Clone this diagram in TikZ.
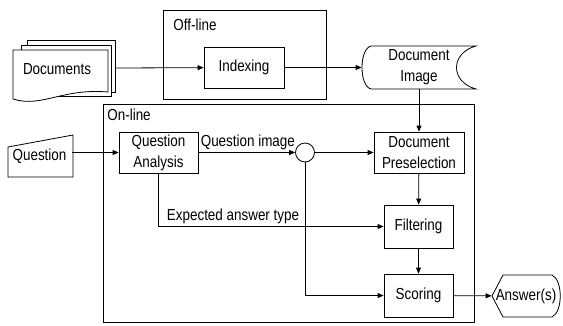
\documentclass[tikz,border=0pt]{standalone}
\usepackage{fontspec}
\setmainfont{Liberation Sans}[FakeStretch=0.84]
\usetikzlibrary{arrows.meta}

\tikzset{
    blk/.style={draw, fill=white, minimum height=41pt, inner sep=1pt, align=center},
    lbl/.style={inner sep=2pt},
    >={Triangle[length=6pt,width=5pt]}
}

\begin{document}
\begin{tikzpicture}[x=1pt, y=-1pt, line width=0.8pt, font=\fontsize{16}{21}\selectfont]
            \useasboundingbox (0,0) rectangle (563,325);

            \draw (163,10) rectangle (326,99);
            \node [anchor=west, lbl] (offl) at (171,25) {Off-line};
            \draw (103,104) rectangle (474,322);
            \node [anchor=west, lbl] (onl) at (105,115) {On-line};

            \draw [fill=white] (27,40) rectangle (115,92);
            \draw [fill=white] (21,45) rectangle (111,96);
            \draw [fill=white] (13,50) -- (108,50) -- (108,92) .. controls (62,88) and (42,108) .. (13,99) -- cycle;
            \node (docs) at (57,69) {Documents};
            \coordinate (docsout) at (115,68);

            \node [blk, minimum width=80pt] (idx) at (244,67.5) {Indexing};

            \node [minimum width=114pt, minimum height=43pt, inner sep=0pt, align=center] (docimg) at (419,67.5) {Document\\Image};
            \draw (371,46) -- (476,46) .. controls (450,53) and (450,82) .. (476,89) -- (371,89) .. controls (359,86) and (359,49) .. (371,46) -- cycle;

            \node [minimum width=65pt, minimum height=42pt, inner sep=0pt] (quest) at (39.5,156) {Question};
            \draw (8,147) -- (73,135) -- (73,177) -- (8,177) -- cycle;

            \node [blk, minimum width=79pt] (qa) at (158.5,152.5) {Question\\Analysis};
            \node [draw, circle, minimum size=19pt, inner sep=0pt] (junc) at (305,152.5) {};
            \node [blk, minimum width=90pt] (dpre) at (419,152.5) {Document\\Preselection};
            \node [blk, minimum width=69pt, minimum height=43pt] (filt) at (418.5,226.5) {Filtering};
            \node [blk, minimum width=69pt, minimum height=43pt] (score) at (418.5,295.5) {Scoring};

            \node [minimum width=68pt, minimum height=43pt, inner sep=0pt] (ans) at (526,296) {Answer(s)};
            \draw (492,296) -- (503,275) -- (552,275) .. controls (563,280) and (563,312) .. (552,317) -- (503,317) -- cycle;

            \draw [->] (docsout) -- (idx);
            \draw [->] (idx) -- (docimg);
            \draw [->] (quest.east |- qa.west) -- (qa.west);
            \draw [->] (qa) -- node [pos=0, anchor=south west, lbl] {Question image} (junc);
            \draw [->] (junc) -- (dpre);
            \draw [->] (docimg) -- (dpre);
            \draw [->] (dpre) -- (filt);
            \draw [->] (filt) -- (score);
            \draw [->] (score) -- (ans);
            \draw [->] (qa.south) -- (qa.south |- filt.west) -- node [pos=0, anchor=south west, lbl, xshift=6pt] {Expected answer type} (filt.west);
            \draw [->] (junc) -- (junc |- score.west) -- (score.west);
        \end{tikzpicture}
\end{document}
